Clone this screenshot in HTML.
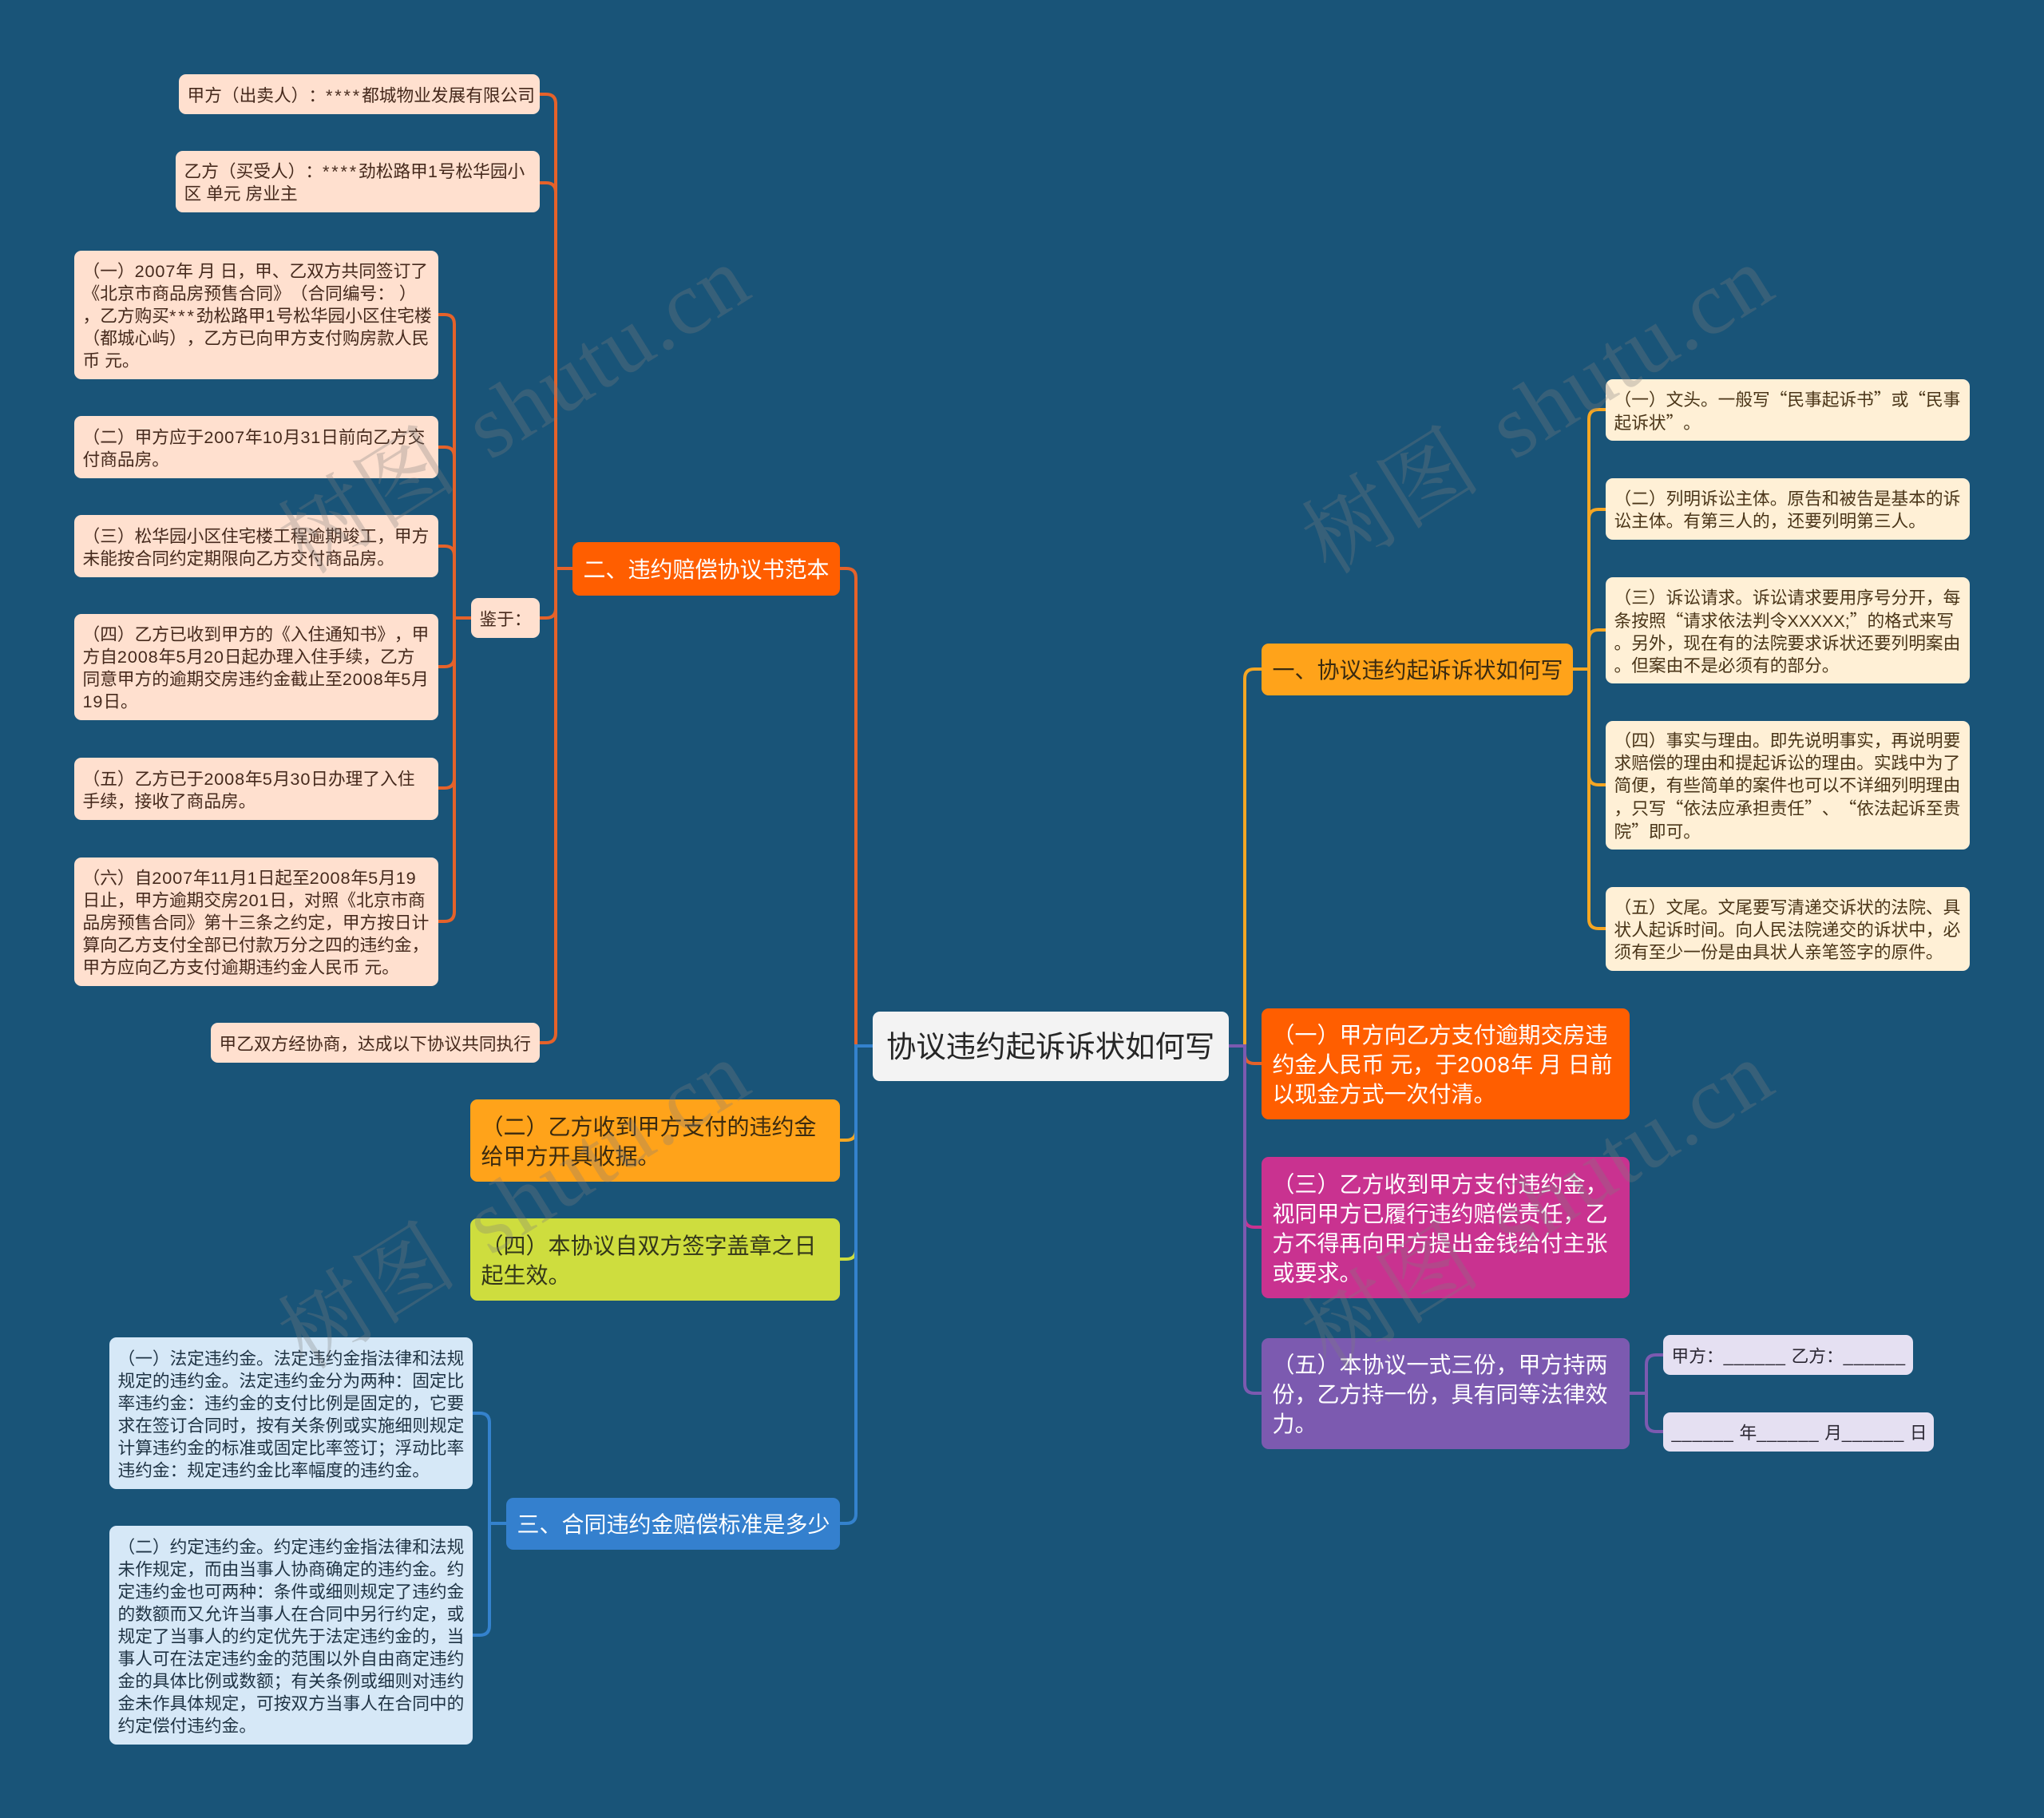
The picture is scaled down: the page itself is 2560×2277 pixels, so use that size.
<!DOCTYPE html>
<html lang="zh">
<head>
<meta charset="utf-8">
<title>协议违约起诉诉状如何写</title>
<style>
html,body{margin:0;padding:0;background:#195478;}
#page{position:relative;width:2560px;height:2277px;overflow:hidden;background:#195478;font-family:"Liberation Sans","Noto Sans CJK SC",sans-serif;text-spacing-trim:space-all;}
svg{position:absolute;left:0;top:0;}
.n{position:absolute;box-sizing:border-box;display:flex;align-items:center;white-space:nowrap;border-radius:9px;}
.s{font-size:21.7px;line-height:28px;padding-left:10.5px;padding-top:3px;}
.l{font-size:28px;line-height:37px;padding-left:13.5px;padding-top:2.5px;}
.d{letter-spacing:.04em;}
.a{letter-spacing:.13em;}
.q{font-family:"Noto Sans CJK SC",sans-serif;}
.u{display:inline-block;width:85px;letter-spacing:1px;}
.pe{background:#FFE0CF;color:#45291c;}
.am{background:#FFF0D6;color:#4a3518;}
.bl{background:#D6E8F7;color:#1f3344;}
.pu{background:#E5E0F2;color:#2b2733;}
.w{position:absolute;font-family:"Liberation Serif","Noto Serif CJK SC",serif;font-size:112px;line-height:120px;color:rgba(125,125,125,.3);white-space:pre;transform:translate(-50%,-50%) rotate(-32deg);word-spacing:14px;letter-spacing:2px;}
</style>
</head>
<body>
<div id="page">
<svg width="2560" height="2277" viewBox="0 0 2560 2277" fill="none" stroke-width="4">
  <g stroke="#E5622A">
    <path d="M1093 1310H1072V724Q1072 712 1060 712H1052"/>
    <path d="M717 712H696"/>
    <path d="M696 712V130Q696 118 684 118H676"/>
    <path d="M696 712V241Q696 229 684 229H676"/>
    <path d="M696 712V762Q696 774 684 774H676"/>
    <path d="M696 712V1294Q696 1306 684 1306H676"/>
    <path d="M590 774H569"/>
    <path d="M569 774V406Q569 394 557 394H549"/>
    <path d="M569 774V572Q569 560 557 560H549"/>
    <path d="M569 774V696Q569 684 557 684H549"/>
    <path d="M569 774V823Q569 835 557 835H549"/>
    <path d="M569 774V975Q569 987 557 987H549"/>
    <path d="M569 774V1142Q569 1154 557 1154H549"/>
  </g>
  <path d="M1072 1416Q1072 1428 1060 1428H1052" stroke="#F5A623"/>
  <path d="M1072 1565Q1072 1577 1060 1577H1052" stroke="#CEDD3E"/>
  <g stroke="#3482CD">
    <path d="M1093 1310H1072V1896Q1072 1908 1060 1908H1052"/>
    <path d="M634 1908H613"/>
    <path d="M613 1908V1782Q613 1770 601 1770H592"/>
    <path d="M613 1908V2036Q613 2048 601 2048H592"/>
  </g>
  <path d="M1539 1310H1559V850Q1559 838 1571 838H1580" stroke="#F5A623"/>
  <path d="M1559 1310V1320Q1559 1332 1571 1332H1580" stroke="#E5622A"/>
  <path d="M1559 1525Q1559 1537 1571 1537H1580" stroke="#C93290"/>
  <path d="M1539 1310H1559V1733Q1559 1745 1571 1745H1580" stroke="#7C5AB0"/>
  <g stroke="#F5A623">
    <path d="M1970 838H1990"/>
    <path d="M1990 838V525Q1990 513 2002 513H2011"/>
    <path d="M1990 838V650Q1990 638 2002 638H2011"/>
    <path d="M1990 838V801Q1990 789 2002 789H2011"/>
    <path d="M1990 838V971Q1990 983 2002 983H2011"/>
    <path d="M1990 838V1151Q1990 1163 2002 1163H2011"/>
  </g>
  <g stroke="#7C5AB0">
    <path d="M2041 1745H2062"/>
    <path d="M2062 1745V1709Q2062 1697 2074 1697H2083"/>
    <path d="M2062 1745V1781Q2062 1793 2074 1793H2083"/>
  </g>
</svg>

<div class="n" style="left:1093px;top:1267px;width:446px;height:87px;background:#F3F3F3;color:#262626;font-size:37.4px;line-height:48px;padding-left:17px;">协议违约起诉诉状如何写</div>

<div class="n l" style="left:717px;top:679px;width:335px;height:67px;background:#FF5E00;color:#fff;">二、违约赔偿协议书范本</div>
<div class="n l" style="left:1580px;top:806px;width:390px;height:65px;background:#FFA31A;color:#3a2a10;">一、协议违约起诉诉状如何写</div>
<div class="n l" style="left:634px;top:1876px;width:418px;height:65px;background:#3480CE;color:#fff;">三、合同违约金赔偿标准是多少</div>

<div class="n l" style="left:589px;top:1377px;width:463px;height:103px;background:#FFA31A;color:#3a2a10;"><span>（二）乙方收到甲方支付的违约金<br>给甲方开具收据。</span></div>
<div class="n l" style="left:589px;top:1526px;width:463px;height:103px;background:#CEDD3E;color:#33361a;"><span>（四）本协议自双方签字盖章之日<br>起生效。</span></div>

<div class="n l" style="left:1580px;top:1263px;width:461px;height:139px;background:#FF5E00;color:#fff;"><span>（一）甲方向乙方支付逾期交房违<br>约金人民币 元，于<span class="d">2008</span>年 月 日前<br>以现金方式一次付清。</span></div>
<div class="n l" style="left:1580px;top:1449px;width:461px;height:177px;background:#C93290;color:#fff;"><span>（三）乙方收到甲方支付违约金，<br>视同甲方已履行违约赔偿责任，乙<br>方不得再向甲方提出金钱给付主张<br>或要求。</span></div>
<div class="n l" style="left:1580px;top:1676px;width:461px;height:139px;background:#7C5AB0;color:#fff;"><span>（五）本协议一式三份，甲方持两<br>份，乙方持一份，具有同等法律效<br>力。</span></div>

<div class="n s pe" style="left:224px;top:93px;width:452px;height:50px;"><span>甲方（出卖人）：<span class="a">****</span>都城物业发展有限公司</span></div>
<div class="n s pe" style="left:220px;top:189px;width:456px;height:77px;"><span>乙方（买受人）：<span class="a">****</span>劲松路甲<span class="d">1</span>号松华园小<br>区 单元 房业主</span></div>
<div class="n s pe" style="left:93px;top:314px;width:456px;height:161px;"><span>（一）<span class="d">2007</span>年 月 日，甲、乙双方共同签订了<br>《北京市商品房预售合同》（合同编号： ）<br>，乙方购买<span class="a">***</span>劲松路甲<span class="d">1</span>号松华园小区住宅楼<br>（都城心屿），乙方已向甲方支付购房款人民<br>币 元。</span></div>
<div class="n s pe" style="left:93px;top:521px;width:456px;height:78px;"><span>（二）甲方应于<span class="d">2007</span>年<span class="d">10</span>月<span class="d">31</span>日前向乙方交<br>付商品房。</span></div>
<div class="n s pe" style="left:93px;top:645px;width:456px;height:78px;"><span>（三）松华园小区住宅楼工程逾期竣工，甲方<br>未能按合同约定期限向乙方交付商品房。</span></div>
<div class="n s pe" style="left:93px;top:769px;width:456px;height:133px;"><span>（四）乙方已收到甲方的《入住通知书》，甲<br>方自<span class="d">2008</span>年<span class="d">5</span>月<span class="d">20</span>日起办理入住手续，乙方<br>同意甲方的逾期交房违约金截止至<span class="d">2008</span>年<span class="d">5</span>月<br><span class="d">19</span>日。</span></div>
<div class="n s pe" style="left:93px;top:949px;width:456px;height:78px;"><span>（五）乙方已于<span class="d">2008</span>年<span class="d">5</span>月<span class="d">30</span>日办理了入住<br>手续，接收了商品房。</span></div>
<div class="n s pe" style="left:93px;top:1074px;width:456px;height:161px;"><span>（六）自<span class="d">2007</span>年<span class="d">11</span>月<span class="d">1</span>日起至<span class="d">2008</span>年<span class="d">5</span>月<span class="d">19</span><br>日止，甲方逾期交房<span class="d">201</span>日，对照《北京市商<br>品房预售合同》第十三条之约定，甲方按日计<br>算向乙方支付全部已付款万分之四的违约金，<br>甲方应向乙方支付逾期违约金人民币 元。</span></div>
<div class="n s pe" style="left:590px;top:749px;width:86px;height:50px;">鉴于：</div>
<div class="n s pe" style="left:264px;top:1281px;width:412px;height:50px;">甲乙双方经协商，达成以下协议共同执行</div>

<div class="n s bl" style="left:137px;top:1675px;width:455px;height:190px;"><span>（一）法定违约金。法定违约金指法律和法规<br>规定的违约金。法定违约金分为两种：固定比<br>率违约金：违约金的支付比例是固定的，它要<br>求在签订合同时，按有关条例或实施细则规定<br>计算违约金的标准或固定比率签订；浮动比率<br>违约金：规定违约金比率幅度的违约金。</span></div>
<div class="n s bl" style="left:137px;top:1911px;width:455px;height:274px;"><span>（二）约定违约金。约定违约金指法律和法规<br>未作规定，而由当事人协商确定的违约金。约<br>定违约金也可两种：条件或细则规定了违约金<br>的数额而又允许当事人在合同中另行约定，或<br>规定了当事人的约定优先于法定违约金的，当<br>事人可在法定违约金的范围以外自由商定违约<br>金的具体比例或数额；有关条例或细则对违约<br>金未作具体规定，可按双方当事人在合同中的<br>约定偿付违约金。</span></div>

<div class="n s am" style="left:2011px;top:475px;width:456px;height:77px;"><span>（一）文头。一般写<span class="q">“</span>民事起诉书<span class="q">”</span>或<span class="q">“</span>民事<br>起诉状<span class="q">”</span>。</span></div>
<div class="n s am" style="left:2011px;top:599px;width:456px;height:77px;"><span>（二）列明诉讼主体。原告和被告是基本的诉<br>讼主体。有第三人的，还要列明第三人。</span></div>
<div class="n s am" style="left:2011px;top:723px;width:456px;height:133px;"><span>（三）诉讼请求。诉讼请求要用序号分开，每<br>条按照<span class="q">“</span>请求依法判令XXXXX;<span class="q">”</span>的格式来写<br>。另外，现在有的法院要求诉状还要列明案由<br>。但案由不是必须有的部分。</span></div>
<div class="n s am" style="left:2011px;top:903px;width:456px;height:161px;"><span>（四）事实与理由。即先说明事实，再说明要<br>求赔偿的理由和提起诉讼的理由。实践中为了<br>简便，有些简单的案件也可以不详细列明理由<br>，只写<span class="q">“</span>依法应承担责任<span class="q">”</span>、<span class="q">“</span>依法起诉至贵<br>院<span class="q">”</span>即可。</span></div>
<div class="n s am" style="left:2011px;top:1111px;width:456px;height:105px;"><span>（五）文尾。文尾要写清递交诉状的法院、具<br>状人起诉时间。向人民法院递交的诉状中，必<br>须有至少一份是由具状人亲笔签字的原件。</span></div>

<div class="n s pu" style="left:2083px;top:1672px;width:313px;height:50px;"><span>甲方：<span class="u">______</span>乙方：<span class="u">______</span></span></div>
<div class="n s pu" style="left:2083px;top:1769px;width:339px;height:49px;"><span><span class="u">______</span>年<span class="u">______</span>月<span class="u">______</span>日</span></div>

<div class="w" style="left:645px;top:514px;">树图 shutu.cn</div>
<div class="w" style="left:1927px;top:514px;">树图 shutu.cn</div>
<div class="w" style="left:645px;top:1510px;">树图 shutu.cn</div>
<div class="w" style="left:1927px;top:1510px;">树图 shutu.cn</div>
</div>
</body>
</html>
